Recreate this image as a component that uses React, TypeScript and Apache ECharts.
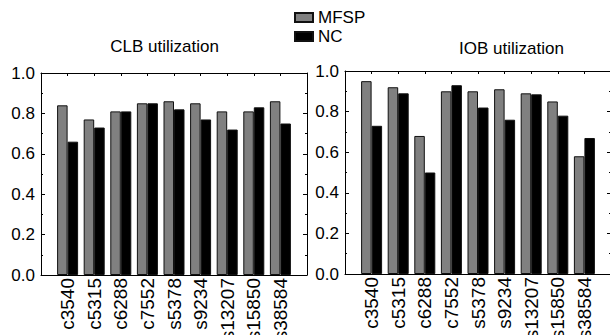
import React, { useEffect, useRef } from "react";
import * as echarts from "echarts";

const categories = ["c3540", "c5315", "c6288", "c7552", "s5378", "s9234", "s13207", "s15850", "s38584"];
const clbMFSP = [0.84, 0.77, 0.81, 0.85, 0.86, 0.85, 0.81, 0.81, 0.86];
const clbNC = [0.66, 0.73, 0.81, 0.85, 0.82, 0.77, 0.72, 0.83, 0.75];
const iobMFSP = [0.95, 0.92, 0.68, 0.90, 0.90, 0.91, 0.89, 0.85, 0.58];
const iobNC = [0.73, 0.89, 0.50, 0.93, 0.82, 0.76, 0.885, 0.78, 0.67];

const FONT = "'Liberation Sans', Arial, Helvetica, sans-serif";

export default function App() {
  const ref = useRef<HTMLDivElement>(null);
  useEffect(() => {
    if (!ref.current) return;
    const chart = echarts.init(ref.current, undefined, { renderer: "svg" });
    const toXY = (vals: number[]) => vals.map((v, i) => [i + 1, v]);
    const grids = [
      { left: 41, top: 73, width: 266, height: 202 },
      { left: 345, top: 71, width: 266, height: 203 },
    ];
    const xAxes: any[] = [];
    const yAxes: any[] = [];
    grids.forEach((_, gi) => {
      xAxes.push({
        type: "value",
        gridIndex: gi,
        min: 0,
        max: 10,
        interval: 1,
        position: "bottom",
        axisLine: { show: true, onZero: false, lineStyle: { color: "#000", width: 1 } },
        axisTick: { show: false },
        splitLine: { show: false },
        axisLabel: {
          rotate: 90,
          margin: 3,
          fontSize: 19,
          fontFamily: FONT,
          color: "#000",
          showMinLabel: true,
          showMaxLabel: true,
          hideOverlap: false,
          formatter: (v: number) => categories[v - 1] || "",
        },
      });
      xAxes.push({
        type: "value",
        gridIndex: gi,
        min: 0,
        max: 10,
        interval: 1,
        position: "top",
        axisLine: { show: true, onZero: false, lineStyle: { color: "#000", width: 1 } },
        axisTick: { show: true, inside: true, length: 3, lineStyle: { color: "#000" } },
        splitLine: { show: false },
        axisLabel: { show: false },
      });
      yAxes.push({
        type: "value",
        gridIndex: gi,
        min: 0,
        max: 1,
        interval: 0.2,
        position: "left",
        axisLine: { show: true, onZero: false, lineStyle: { color: "#000", width: 1 } },
        axisTick: { show: true, inside: true, length: 4, lineStyle: { color: "#000" } },
        minorTick: { show: true, splitNumber: 2, length: 2, lineStyle: { color: "#000" } },
        splitLine: { show: false },
        axisLabel: {
          margin: 6,
          fontSize: 17,
          fontFamily: FONT,
          color: "#000",
          formatter: (v: number) => v.toFixed(1),
        },
      });
      yAxes.push({
        type: "value",
        gridIndex: gi,
        min: 0,
        max: 1,
        interval: 0.2,
        position: "right",
        axisLine: { show: true, onZero: false, lineStyle: { color: "#000", width: 1 } },
        axisTick: { show: true, inside: true, length: 4, lineStyle: { color: "#000" } },
        minorTick: { show: true, splitNumber: 2, length: 2, lineStyle: { color: "#000" } },
        splitLine: { show: false },
        axisLabel: { show: false },
      });
    });
    const barStyle = (color: string) => ({ color, borderColor: "#111", borderWidth: 1 });
    const mk = (name: string, data: number[], gi: number, color: string) => ({
      name,
      type: "bar",
      xAxisIndex: gi * 2,
      yAxisIndex: gi * 2,
      data: toXY(data),
      barWidth: 10.5,
      barGap: "0%",
      itemStyle: barStyle(color),
    });
    chart.setOption({
      animation: false,
      backgroundColor: "#fff",
      textStyle: { fontFamily: FONT },
      grid: grids.map((g) => ({ ...g, show: false, containLabel: false, outerBoundsMode: "none" })),
      legend: {
        data: ["MFSP", "NC"],
        orient: "vertical",
        left: 294,
        top: 9,
        padding: 0,
        itemWidth: 18,
        itemHeight: 9,
        itemGap: 2,
        icon: "rect",
        textStyle: { fontSize: 17, fontFamily: FONT, color: "#000", lineHeight: 17 },
      },
      xAxis: xAxes,
      yAxis: yAxes,
      series: [
        mk("MFSP", clbMFSP, 0, "#808080"),
        mk("NC", clbNC, 0, "#000000"),
        mk("MFSP", iobMFSP, 1, "#808080"),
        mk("NC", iobNC, 1, "#000000"),
      ],
      graphic: [
        {
          type: "text",
          x: 164.5,
          y: 46,
          style: { text: "CLB utilization", fontSize: 17, fontFamily: FONT, fill: "#000", textAlign: "center", textVerticalAlign: "middle" },
        },
        {
          type: "text",
          x: 511.5,
          y: 48,
          style: { text: "IOB utilization", fontSize: 17, fontFamily: FONT, fill: "#000", textAlign: "center", textVerticalAlign: "middle" },
        },
      ],
    });
    return () => chart.dispose();
  }, []);
  return (
    <div
      ref={ref}
      style={{ position: "fixed", left: 0, top: 0, width: 610, height: 335, background: "#fff" }}
    />
  );
}
